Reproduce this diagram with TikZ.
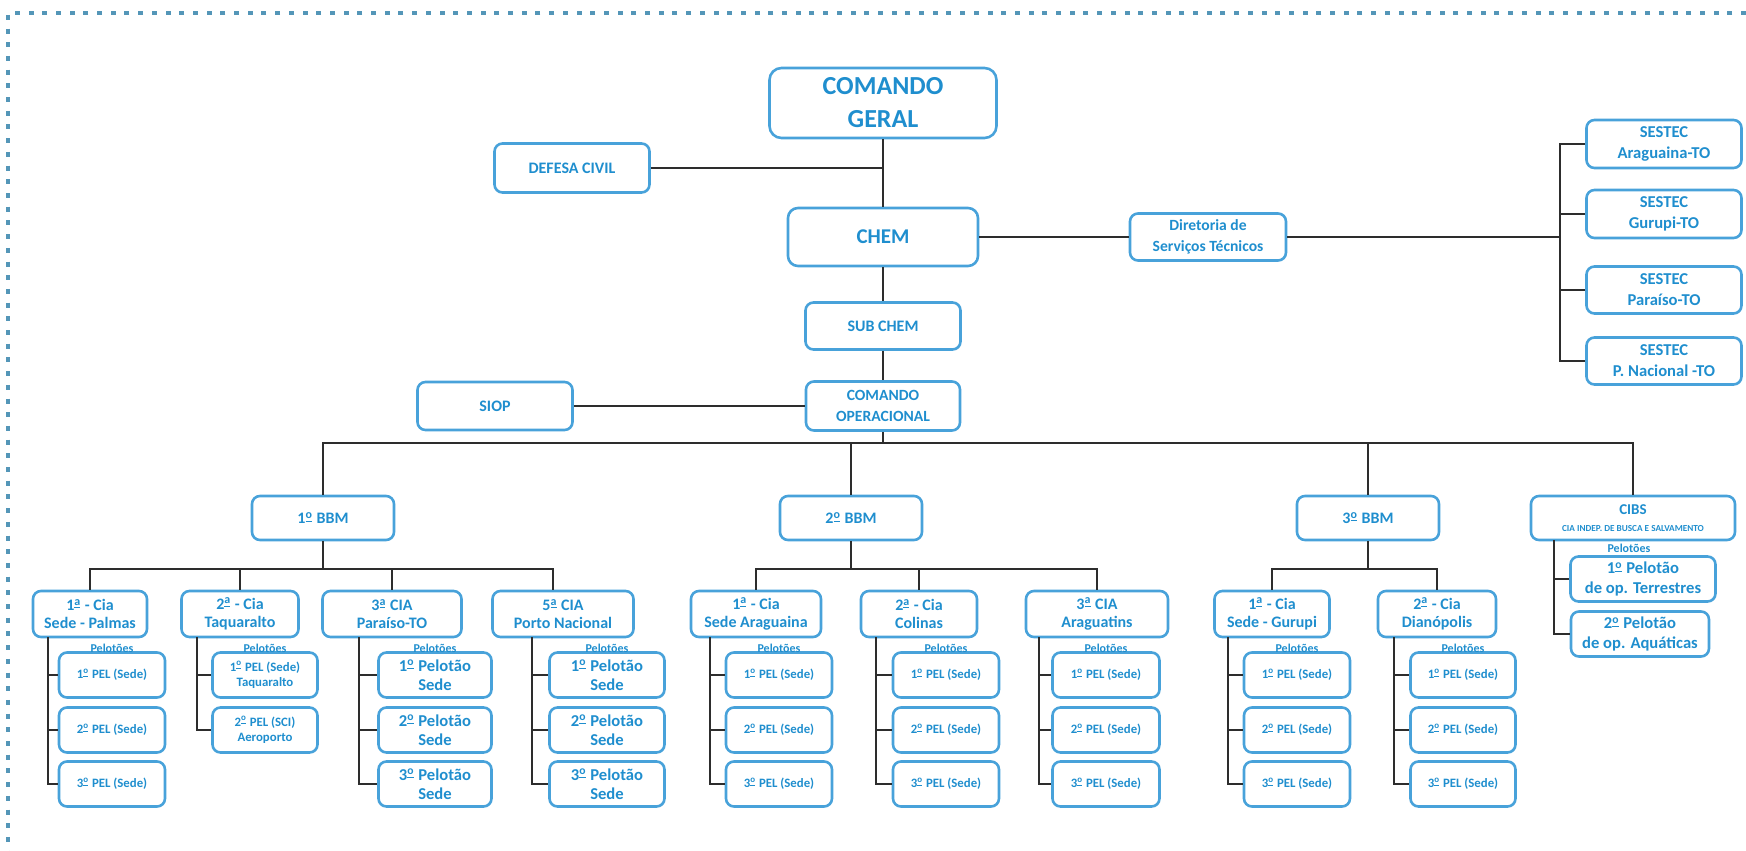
\documentclass[tikz,border=0pt]{standalone}
\usepackage{fontspec}
\setmainfont{Carlito}
\definecolor{qqttcc}{RGB}{31,142,206}
\definecolor{ttzzdd}{RGB}{72,162,218}
\definecolor{tttttt}{RGB}{45,45,45}
\definecolor{zzzzcc}{RGB}{84,150,184}
\newcommand{\ordo}{\textsuperscript{\underline{o}}}
\newcommand{\orda}{\textsuperscript{\underline{a}}}
\begin{document}
\begin{tikzpicture}[x=0.5pt,y=-0.5pt,
  box/.style={draw=ttzzdd,line width=1.3pt,rounded corners=4pt,text=qqttcc,align=center,inner sep=0pt,font=\bfseries\fontsize{8}{9.6}\selectfont},
  bbmbox/.style={box,minimum width=71pt,minimum height=22pt},
  ciabox/.style={box,minimum height=23pt,font=\bfseries\fontsize{8}{9}\selectfont},
  pelbox/.style={box,minimum height=22.5pt,font=\bfseries\fontsize{6.4}{7.8}\selectfont},
  pltbox/.style={box,minimum height=22.5pt,font=\bfseries\fontsize{8.3}{9.6}\selectfont},
  pels/.style={text=qqttcc,inner sep=0pt,font=\bfseries\fontsize{6}{6}\selectfont},
  conn/.style={draw=tttttt,line width=1pt}]
\useasboundingbox (0,0) rectangle (1746,851);
% dotted frame
\draw[color=zzzzcc,line width=1.6pt,dash pattern=on 2.5pt off 4.35pt] (1746,13) -- (8,13) -- (8,851);
% top levels
\node[box,minimum width=113.5pt,minimum height=35pt,rounded corners=6pt,font=\bfseries\fontsize{13}{16.5}\selectfont] (cg) at (883,103) {COMANDO\\GERAL};
\node[box,minimum width=77.5pt,minimum height=24.5pt] (dc) at (572,168) {DEFESA CIVIL};
\node[box,minimum width=95pt,minimum height=29pt,rounded corners=5pt,font=\bfseries\fontsize{10.5}{12}\selectfont] (chem) at (883,237) {CHEM};
\node[box,minimum width=78pt,minimum height=23.5pt,font=\bfseries\fontsize{7.8}{10.5}\selectfont] (dst) at (1208,237) {Diretoria de\\Serviços Técnicos};
\node[box,minimum width=77.5pt,minimum height=23.5pt] (sub) at (883,326) {SUB CHEM};
\node[box,minimum width=77pt,minimum height=24.5pt,font=\bfseries\fontsize{7.8}{10.5}\selectfont] (co) at (883,406) {COMANDO\\OPERACIONAL};
\node[box,minimum width=77.5pt,minimum height=24pt] (siop) at (495,406) {SIOP};
% SESTEC
\node[box,minimum width=77.5pt,minimum height=24pt,font=\bfseries\fontsize{8.3}{10.5}\selectfont] (s1) at (1664,144) {SESTEC\\Araguaina-TO};
\node[box,minimum width=77.5pt,minimum height=24pt,font=\bfseries\fontsize{8.3}{10.5}\selectfont] (s2) at (1664,214) {SESTEC\\Gurupi-TO};
\node[box,minimum width=77.5pt,minimum height=23.5pt,font=\bfseries\fontsize{8.3}{10.5}\selectfont] (s3) at (1664,290) {SESTEC\\Paraíso-TO};
\node[box,minimum width=77.5pt,minimum height=23.5pt,font=\bfseries\fontsize{8.3}{10.5}\selectfont] (s4) at (1664,361) {SESTEC\\P. Nacional -TO};
\coordinate (sb) at (1560,237);
\draw[conn] (cg) -- (chem);
\draw[conn] (dc) -- (dc -| cg);
\draw[conn] (chem) -- (sub);
\draw[conn] (sub) -- (co);
\draw[conn] (siop) -- (co);
\draw[conn] (chem) -- (dst);
\draw[conn] (dst) -- (sb);
\draw[conn] (s1) -| (sb);
\draw[conn] (s4) -| (sb);
\draw[conn] (s2) -- (s2 -| sb);
\draw[conn] (s3) -- (s3 -| sb);
% battalions
\node[bbmbox] (bbm1) at (323,518) {1\ordo{} BBM};
\node[bbmbox] (bbm2) at (851,518) {2\ordo{} BBM};
\node[bbmbox] (bbm3) at (1368,518) {3\ordo{} BBM};
\node[box,minimum width=102pt,minimum height=22pt,font=\bfseries\fontsize{7.5}{8.5}\selectfont] (cibs) at (1633,518) {CIBS\\{\fontsize{4.6}{5.5}\selectfont CIA INDEP. DE BUSCA E SALVAMENTO}};
\coordinate (bo) at (883,443);
\draw[conn] (co) -- (bo);
\draw[conn] (bbm1) |- (bo) -| (cibs);
\draw[conn] (bbm2) -- (bbm2 |- bo);
\draw[conn] (bbm3) -- (bbm3 |- bo);
% companies
\node[ciabox,minimum width=57pt] (c11) at (90,614) {1\orda{} - Cia\\Sede - Palmas};
\node[ciabox,minimum width=58.5pt] (c12) at (240,614) {2\orda{} - Cia\\Taquaralto};
\node[ciabox,minimum width=69.5pt] (c13) at (392,614) {3\orda{} CIA\\Paraíso-TO};
\node[ciabox,minimum width=70.5pt] (c15) at (563,614) {5\orda{} CIA\\Porto Nacional};
\node[ciabox,minimum width=65pt] (c21) at (756,614) {1\orda{} - Cia\\Sede Araguaina};
\node[ciabox,minimum width=58pt] (c22) at (919,614) {2\orda{} - Cia\\Colinas};
\node[ciabox,minimum width=71pt] (c23) at (1097,614) {3\orda{} CIA\\Araguatins};
\node[ciabox,minimum width=57.5pt] (c31) at (1272,614) {1\orda{} - Cia\\Sede - Gurupi};
\node[ciabox,minimum width=59pt] (c32) at (1437,614) {2\orda{} - Cia\\Dianópolis};
\coordinate (b1) at (323,569);
\coordinate (b2) at (851,569);
\coordinate (b3) at (1368,569);
\draw[conn] (bbm1) -- (b1);
\draw[conn] (c11) |- (b1) -| ([xshift=-5pt]c15.north);
\draw[conn] (c12) -- (c12 |- b1);
\draw[conn] (c13) -- (c13 |- b1);
\draw[conn] (bbm2) -- (b2);
\draw[conn] (c21) |- (b2) -| (c23);
\draw[conn] (c22) -- (c22 |- b2);
\draw[conn] (bbm3) -- (b3);
\draw[conn] (c31) |- (b3) -| (c32);
% platoons 1o BBM
\node[pelbox,minimum width=53pt] (p111) at (112,675) {1\ordo{} PEL (Sede)};
\node[pelbox,minimum width=53pt] (p112) at (112,730) {2\ordo{} PEL (Sede)};
\node[pelbox,minimum width=53pt] (p113) at (112,784) {3\ordo{} PEL (Sede)};
\node[pelbox,minimum width=52.5pt] (p121) at (265,675) {1\ordo{} PEL (Sede)\\Taquaralto};
\node[pelbox,minimum width=52.5pt] (p122) at (265,730) {2\ordo{} PEL (SCI)\\Aeroporto};
\node[pltbox,minimum width=56.5pt] (p131) at (435,675) {1\ordo{} Pelotão\\Sede};
\node[pltbox,minimum width=56.5pt] (p132) at (435,730) {2\ordo{} Pelotão\\Sede};
\node[pltbox,minimum width=56.5pt] (p133) at (435,784) {3\ordo{} Pelotão\\Sede};
\node[pltbox,minimum width=57.5pt] (p151) at (607,675) {1\ordo{} Pelotão\\Sede};
\node[pltbox,minimum width=57.5pt] (p152) at (607,730) {2\ordo{} Pelotão\\Sede};
\node[pltbox,minimum width=57.5pt] (p153) at (607,784) {3\ordo{} Pelotão\\Sede};
% platoons 2o BBM
\node[pelbox,minimum width=53pt] (p211) at (779,675) {1\ordo{} PEL (Sede)};
\node[pelbox,minimum width=53pt] (p212) at (779,730) {2\ordo{} PEL (Sede)};
\node[pelbox,minimum width=53pt] (p213) at (779,784) {3\ordo{} PEL (Sede)};
\node[pelbox,minimum width=53pt] (p221) at (946,675) {1\ordo{} PEL (Sede)};
\node[pelbox,minimum width=53pt] (p222) at (946,730) {2\ordo{} PEL (Sede)};
\node[pelbox,minimum width=53pt] (p223) at (946,784) {3\ordo{} PEL (Sede)};
\node[pelbox,minimum width=53.5pt] (p231) at (1106,675) {1\ordo{} PEL (Sede)};
\node[pelbox,minimum width=53.5pt] (p232) at (1106,730) {2\ordo{} PEL (Sede)};
\node[pelbox,minimum width=53.5pt] (p233) at (1106,784) {3\ordo{} PEL (Sede)};
% platoons 3o BBM
\node[pelbox,minimum width=53pt] (p311) at (1297,675) {1\ordo{} PEL (Sede)};
\node[pelbox,minimum width=53pt] (p312) at (1297,730) {2\ordo{} PEL (Sede)};
\node[pelbox,minimum width=53pt] (p313) at (1297,784) {3\ordo{} PEL (Sede)};
\node[pelbox,minimum width=52.5pt] (p321) at (1463,675) {1\ordo{} PEL (Sede)};
\node[pelbox,minimum width=52.5pt] (p322) at (1463,730) {2\ordo{} PEL (Sede)};
\node[pelbox,minimum width=52.5pt] (p323) at (1463,784) {3\ordo{} PEL (Sede)};
% platoons CIBS
\node[pltbox,minimum width=72.5pt] (p41) at (1643,579) {1\ordo{} Pelotão\\de op. Terrestres};
\node[pltbox,minimum width=69pt] (p42) at (1640,634) {2\ordo{} Pelotão\\de op. Aquáticas};
% Pelotoes labels
\node[pels] (l11) at (112,648) {Pelotões};
\node[pels] (l12) at (265,648) {Pelotões};
\node[pels] (l13) at (435,648) {Pelotões};
\node[pels] (l15) at (607,648) {Pelotões};
\node[pels] (l21) at (779,648) {Pelotões};
\node[pels] (l22) at (946,648) {Pelotões};
\node[pels] (l23) at (1106,648) {Pelotões};
\node[pels] (l31) at (1297,648) {Pelotões};
\node[pels] (l32) at (1463,648) {Pelotões};
\node[pels] (l4) at (1629,548) {Pelotões};
% platoon links
\coordinate (v11) at (48,637);
\coordinate (v12) at (197,637);
\coordinate (v13) at (359,637);
\coordinate (v15) at (532,637);
\coordinate (v21) at (710,637);
\coordinate (v22) at (876,637);
\coordinate (v23) at (1039,637);
\coordinate (v31) at (1228,637);
\coordinate (v32) at (1394,637);
\coordinate (v4) at (1554,540);
\draw[conn] (v11) |- (p111); \draw[conn] (v11) |- (p112); \draw[conn] (v11) |- (p113);
\draw[conn] (v12) |- (p121); \draw[conn] (v12) |- (p122);
\draw[conn] (v13) |- (p131); \draw[conn] (v13) |- (p132); \draw[conn] (v13) |- (p133);
\draw[conn] (v15) |- (p151); \draw[conn] (v15) |- (p152); \draw[conn] (v15) |- (p153);
\draw[conn] (v21) |- (p211); \draw[conn] (v21) |- (p212); \draw[conn] (v21) |- (p213);
\draw[conn] (v22) |- (p221); \draw[conn] (v22) |- (p222); \draw[conn] (v22) |- (p223);
\draw[conn] (v23) |- (p231); \draw[conn] (v23) |- (p232); \draw[conn] (v23) |- (p233);
\draw[conn] (v31) |- (p311); \draw[conn] (v31) |- (p312); \draw[conn] (v31) |- (p313);
\draw[conn] (v32) |- (p321); \draw[conn] (v32) |- (p322); \draw[conn] (v32) |- (p323);
\draw[conn] (v4) |- (p41); \draw[conn] (v4) |- (p42);
\end{tikzpicture}
\end{document}
